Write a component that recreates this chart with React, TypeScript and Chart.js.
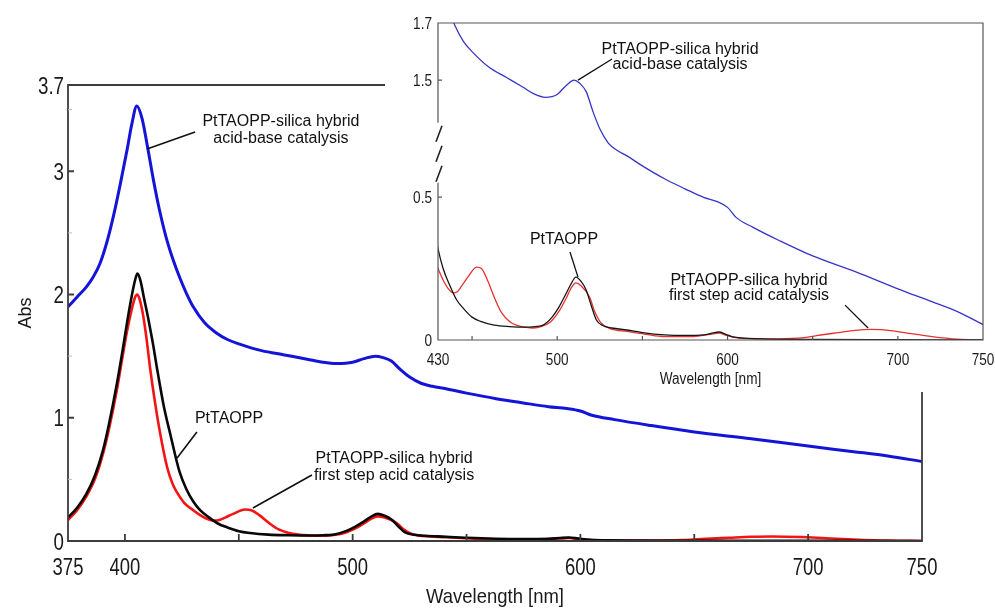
import React, { useEffect, useRef } from 'react';
import { Chart, registerables } from 'chart.js';

Chart.register(...registerables);

// ---------- data ----------
const blueNm = [375, 379, 383, 386, 389, 392, 395, 398, 401, 403, 405.2, 407.5, 410, 412.5, 415, 418, 421, 424, 427, 430, 435, 440, 445, 450, 460, 470, 480, 487, 493, 500, 505, 510, 513, 517, 521, 525, 530, 535, 541, 550, 563, 575, 586, 594, 600, 605, 615, 630, 650, 675, 700, 720, 735, 750];
const blueAbs = [1.90, 1.98, 2.06, 2.14, 2.25, 2.42, 2.64, 2.90, 3.18, 3.38, 3.53, 3.43, 3.19, 2.93, 2.70, 2.47, 2.29, 2.14, 2.01, 1.90, 1.77, 1.69, 1.635, 1.60, 1.545, 1.51, 1.475, 1.45, 1.44, 1.45, 1.48, 1.50, 1.49, 1.46, 1.39, 1.33, 1.28, 1.255, 1.235, 1.20, 1.155, 1.12, 1.09, 1.075, 1.055, 1.02, 0.985, 0.94, 0.885, 0.83, 0.77, 0.725, 0.69, 0.645];

const blackNm = [375, 379, 383, 387, 390.4, 393, 396.5, 399, 401, 403, 404.5, 405.5, 406.7, 408.5, 410.5, 412.5, 414, 417, 420, 424, 427, 430, 433, 437, 441, 445, 450, 455, 463, 472, 481, 487, 492, 497, 501, 505, 508, 511, 514, 517, 520, 523, 527, 532, 541, 550, 563, 575, 586, 591, 595, 599, 604, 612, 620, 650, 700, 750];
const blackAbs = [0.19, 0.27, 0.38, 0.54, 0.74, 0.95, 1.28, 1.55, 1.78, 1.99, 2.12, 2.17, 2.12, 1.96, 1.78, 1.58, 1.41, 1.10, 0.86, 0.56, 0.42, 0.32, 0.25, 0.19, 0.14, 0.11, 0.08, 0.065, 0.052, 0.047, 0.045, 0.047, 0.053, 0.08, 0.115, 0.16, 0.195, 0.22, 0.205, 0.175, 0.12, 0.07, 0.05, 0.042, 0.035, 0.026, 0.018, 0.016, 0.018, 0.024, 0.028, 0.02, 0.01, 0.006, 0.004, 0.002, 0.001, 0];

const redNm = [375, 379, 383, 387, 390.4, 393, 396.5, 399, 401, 403, 404.3, 405.3, 406.3, 408, 409.5, 411, 413, 415.4, 418.5, 421, 423, 426, 430, 433, 436, 439, 441.5, 444, 447.5, 452.7, 455.5, 459, 463, 467.5, 472, 476, 481, 486, 491, 496, 501, 505.6, 508, 511, 514, 519, 522, 525.7, 531, 541, 552, 563, 580, 590, 595, 600, 608, 630, 645, 653, 665, 675, 684, 697, 708, 720, 735, 750];
const redAbs = [0.17, 0.25, 0.36, 0.51, 0.71, 0.91, 1.23, 1.50, 1.71, 1.88, 1.97, 2.00, 1.97, 1.83, 1.64, 1.41, 1.15, 0.88, 0.60, 0.46, 0.39, 0.31, 0.25, 0.21, 0.18, 0.165, 0.17, 0.19, 0.22, 0.255, 0.25, 0.21, 0.15, 0.094, 0.065, 0.052, 0.045, 0.042, 0.048, 0.063, 0.10, 0.15, 0.18, 0.20, 0.19, 0.15, 0.10, 0.06, 0.04, 0.03, 0.02, 0.012, 0.012, 0.02, 0.024, 0.015, 0.006, 0.004, 0.008, 0.016, 0.026, 0.034, 0.037, 0.032, 0.022, 0.012, 0.003, 0];

const mainXTicks = [375, 400, 450, 500, 550, 600, 650, 700, 750];
const mainXLabels = [375, 400, 500, 600, 700, 750];
const mainYTicks = [0, 0.5, 1, 1.5, 2, 2.5, 3, 3.5, 3.7];
const mainYLabels = [0, 1, 2, 3, 3.7];

const insetXTicks = [430, 450, 500, 550, 600, 650, 700, 750];
const insetXLabels = [430, 500, 600, 700, 750];
const insetYLow = [0, 0.5];
const insetYHigh = [1.5, 1.7];
const INSET_BLUE_OFFSET = 0.591; // broken axis: upper segment shifted down
const INSET_BREAK = [0.55, 0.76];

const mainNotes = [
  { lines: ['PtTAOPP-silica hybrid', 'acid-base catalysis'], x: 468.5, y: 3.331, from: [409.7, 3.181], to: [430.8, 3.319] },
  { lines: ['PtTAOPP'], x: 445.7, y: 0.99, from: [422.9, 0.673], to: [431.6, 0.884] },
  { lines: ['PtTAOPP-silica hybrid', 'first step acid catalysis'], x: 518.2, y: 0.596, from: [456.2, 0.268], to: [482.1, 0.536] },
];
const insetNotes = [
  { lines: ['PtTAOPP-silica hybrid', 'acid-base catalysis'], x: 572.1, y: 0.991, from: [512.2, 0.909], to: [532.2, 0.983] },
  { lines: ['PtTAOPP'], x: 504, y: 0.353, from: [512.2, 0.22], to: [507.5, 0.308] },
  { lines: ['PtTAOPP-silica hybrid', 'first step acid catalysis'], x: 612.6, y: 0.18, from: [669, 0.122], to: [682.5, 0.042] },
];

// ---------- layout constants ----------
const W = 995;
const H = 608;
const INSET_LEFT = 388;
const INSET_W = W - INSET_LEFT;
const INSET_H = 392;

const SANS = "'Liberation Sans', Arial, Helvetica, sans-serif";
const TEXT = '#1a1a1a';

const pts = (xs: number[], ys: number[], off = 0) => xs.map((x, i) => ({ x, y: ys[i] - off }));

function txt(ctx: any, s: string, x: number, y: number, size: number, sx: number, align: string, rot = 0) {
  ctx.save();
  ctx.translate(x, y);
  if (rot) ctx.rotate(rot);
  ctx.scale(sx, 1);
  ctx.font = `${size}px ${SANS}`;
  ctx.fillStyle = TEXT;
  ctx.textAlign = align;
  ctx.textBaseline = 'alphabetic';
  ctx.fillText(s, 0, 0);
  ctx.restore();
}

function notesPlugin(id: string, notes: any[], gap: number, lw: number) {
  return {
    id,
    afterDatasetsDraw(chart: any) {
      const { ctx, scales } = chart;
      const xs = scales.x, ys = scales.y;
      ctx.save();
      ctx.strokeStyle = '#111';
      ctx.lineWidth = lw;
      ctx.fillStyle = '#111';
      ctx.font = `16px ${SANS}`;
      ctx.textAlign = 'center';
      ctx.textBaseline = 'middle';
      for (const n of notes) {
        ctx.beginPath();
        ctx.moveTo(xs.getPixelForValue(n.from[0]), ys.getPixelForValue(n.from[1]));
        ctx.lineTo(xs.getPixelForValue(n.to[0]), ys.getPixelForValue(n.to[1]));
        ctx.stroke();
        const cx = xs.getPixelForValue(n.x);
        const cy = ys.getPixelForValue(n.y);
        const start = cy - ((n.lines.length - 1) * gap) / 2;
        n.lines.forEach((t: string, i: number) => ctx.fillText(t, cx, start + i * gap));
      }
      ctx.restore();
    },
  };
}

const mainFrame = {
  id: 'mainFrame',
  afterDatasetsDraw(chart: any) {
    const { ctx, chartArea: ca, scales } = chart;
    ctx.save();
    ctx.strokeStyle = '#3c3c3c';
    ctx.lineWidth = 1.8;
    ctx.beginPath();
    ctx.moveTo(INSET_LEFT - 3, ca.top);
    ctx.lineTo(ca.left, ca.top);
    ctx.lineTo(ca.left, ca.bottom);
    ctx.lineTo(ca.right, ca.bottom);
    ctx.lineTo(ca.right, INSET_H);
    ctx.stroke();
    ctx.beginPath();
    for (const v of mainXTicks) {
      if (v === 375 || v === 750) continue;
      const px = scales.x.getPixelForValue(v);
      ctx.moveTo(px, ca.bottom);
      ctx.lineTo(px, ca.bottom - 7);
    }
    for (const v of mainYLabels) {
      if (v === 0 || v === 3.7) continue;
      const py = scales.y.getPixelForValue(v);
      ctx.moveTo(ca.left, py);
      ctx.lineTo(ca.left + 6, py);
    }
    ctx.stroke();
    ctx.strokeStyle = '#bbbbbb';
    ctx.lineWidth = 1;
    ctx.beginPath();
    for (const v of mainYTicks) {
      if (mainYLabels.includes(v)) continue;
      const py = scales.y.getPixelForValue(v);
      ctx.moveTo(ca.left, py);
      ctx.lineTo(ca.left + 4, py);
    }
    ctx.stroke();
    ctx.restore();
  },
  afterDraw(chart: any) {
    const { ctx, chartArea: ca, scales } = chart;
    for (const v of mainXLabels) {
      txt(ctx, String(v), scales.x.getPixelForValue(v), ca.bottom + 34, 24, 0.77, 'center');
    }
    for (const v of mainYLabels) {
      txt(ctx, String(v), ca.left - 4, scales.y.getPixelForValue(v) + 8.6, 24, 0.78, 'right');
    }
    txt(ctx, 'Wavelength [nm]', (ca.left + ca.right) / 2, ca.bottom + 62, 21, 0.88, 'center');
    txt(ctx, 'Abs', 31, (ca.top + ca.bottom) / 2, 18, 1, 'center', -Math.PI / 2);
  },
};

const insetFrame = {
  id: 'insetFrame',
  afterDatasetsDraw(chart: any) {
    const { ctx, chartArea: ca, scales } = chart;
    const y = scales.y, x = scales.x;
    const yLo = y.getPixelForValue(INSET_BREAK[0]);
    const yHi = y.getPixelForValue(INSET_BREAK[1]);
    ctx.save();
    ctx.strokeStyle = '#555';
    ctx.lineWidth = 1.2;
    ctx.beginPath();
    ctx.moveTo(ca.left, yHi);
    ctx.lineTo(ca.left, ca.top);
    ctx.lineTo(ca.right, ca.top);
    ctx.lineTo(ca.right, ca.bottom);
    ctx.lineTo(ca.left, ca.bottom);
    ctx.lineTo(ca.left, yLo);
    for (const v of insetXTicks) {
      if (v === 430 || v === 750) continue;
      const px = x.getPixelForValue(v);
      ctx.moveTo(px, ca.bottom);
      ctx.lineTo(px, ca.bottom - 4);
    }
    const yTickVals = [0.5, insetYHigh[0] - INSET_BLUE_OFFSET];
    for (const v of yTickVals) {
      const py = y.getPixelForValue(v);
      ctx.moveTo(ca.left, py);
      ctx.lineTo(ca.left + 4, py);
    }
    ctx.stroke();
    // break marks
    ctx.strokeStyle = '#222';
    ctx.lineWidth = 1.6;
    ctx.beginPath();
    const step = (yLo - yHi) / 3;
    for (let i = 0; i < 3; i++) {
      const t = yHi + 3 + i * step;
      ctx.moveTo(ca.left + 4, t);
      ctx.lineTo(ca.left - 2, t + step - 4);
    }
    ctx.stroke();
    ctx.restore();
  },
  afterDraw(chart: any) {
    const { ctx, chartArea: ca, scales } = chart;
    for (const v of insetXLabels) {
      txt(ctx, String(v), scales.x.getPixelForValue(v), ca.bottom + 25, 16, 0.85, 'center');
    }
    const yl: [number, string][] = [
      ...insetYLow.map((v) => [v, String(v)] as [number, string]),
      ...insetYHigh.map((v) => [v - INSET_BLUE_OFFSET, String(v)] as [number, string]),
    ];
    for (const [v, s] of yl) {
      txt(ctx, s, ca.left - 6, scales.y.getPixelForValue(v) + 5.7, 16, 0.85, 'right');
    }
    txt(ctx, 'Wavelength [nm]', (ca.left + ca.right) / 2, ca.bottom + 43.5, 16, 0.85, 'center');
  },
};

const axisOpts = (min: number, max: number, fit: (s: any) => void) => ({
  type: 'linear' as const,
  min,
  max,
  afterFit: fit,
  grid: { display: false, drawTicks: false },
  border: { display: false },
  ticks: { display: false },
  title: { display: false },
});

export default function App() {
  const mainRef = useRef<HTMLCanvasElement>(null);
  const insetRef = useRef<HTMLCanvasElement>(null);

  useEffect(() => {
    const common = { pointRadius: 0, fill: false, cubicInterpolationMode: 'monotone' as const };
    const main = new Chart(mainRef.current!, {
      type: 'line',
      data: {
        datasets: [
          { ...common, data: pts(blackNm, blackAbs), borderColor: '#080808', borderWidth: 2.6 },
          { ...common, data: pts(redNm, redAbs), borderColor: '#f41414', borderWidth: 2.6 },
          { ...common, data: pts(blueNm, blueAbs), borderColor: '#1414d8', borderWidth: 3 },
        ],
      },
      options: {
        responsive: false,
        animation: false,
        parsing: false,
        layout: { padding: { top: 85, right: W - 922, left: 0, bottom: 0 } },
        plugins: { legend: { display: false }, tooltip: { enabled: false } },
        scales: {
          x: axisOpts(375, 750, (s: any) => { s.height = H - 541; }),
          y: axisOpts(0, 3.7, (s: any) => { s.width = 68; }),
        },
      },
      plugins: [mainFrame, notesPlugin('mainNotes', mainNotes, 17, 1.6)],
    });

    const inset = new Chart(insetRef.current!, {
      type: 'line',
      data: {
        datasets: [
          { ...common, data: pts(blackNm, blackAbs), borderColor: '#161616', borderWidth: 1.3 },
          { ...common, data: pts(redNm, redAbs), borderColor: '#e83030', borderWidth: 1.3 },
          { ...common, data: pts(blueNm, blueAbs, INSET_BLUE_OFFSET), borderColor: '#3535c8', borderWidth: 1.3 },
        ],
      },
      options: {
        responsive: false,
        animation: false,
        parsing: false,
        layout: { padding: { top: 23, right: W - 983, left: 0, bottom: 0 } },
        plugins: { legend: { display: false }, tooltip: { enabled: false } },
        scales: {
          x: axisOpts(430, 750, (s: any) => { s.height = INSET_H - 340; }),
          y: axisOpts(0, insetYHigh[1] - INSET_BLUE_OFFSET, (s: any) => { s.width = 438 - INSET_LEFT; }),
        },
      },
      plugins: [insetFrame, notesPlugin('insetNotes', insetNotes, 15, 1.3)],
    });

    return () => {
      main.destroy();
      inset.destroy();
    };
  }, []);

  return (
    <div style={{ position: 'absolute', left: 0, top: 0, width: W, height: H, background: '#fff' }}>
      <canvas ref={mainRef} width={W} height={H} style={{ position: 'absolute', left: 0, top: 0 }} />
      <canvas
        ref={insetRef}
        width={INSET_W}
        height={INSET_H}
        style={{ position: 'absolute', left: INSET_LEFT, top: 0 }}
      />
    </div>
  );
}
